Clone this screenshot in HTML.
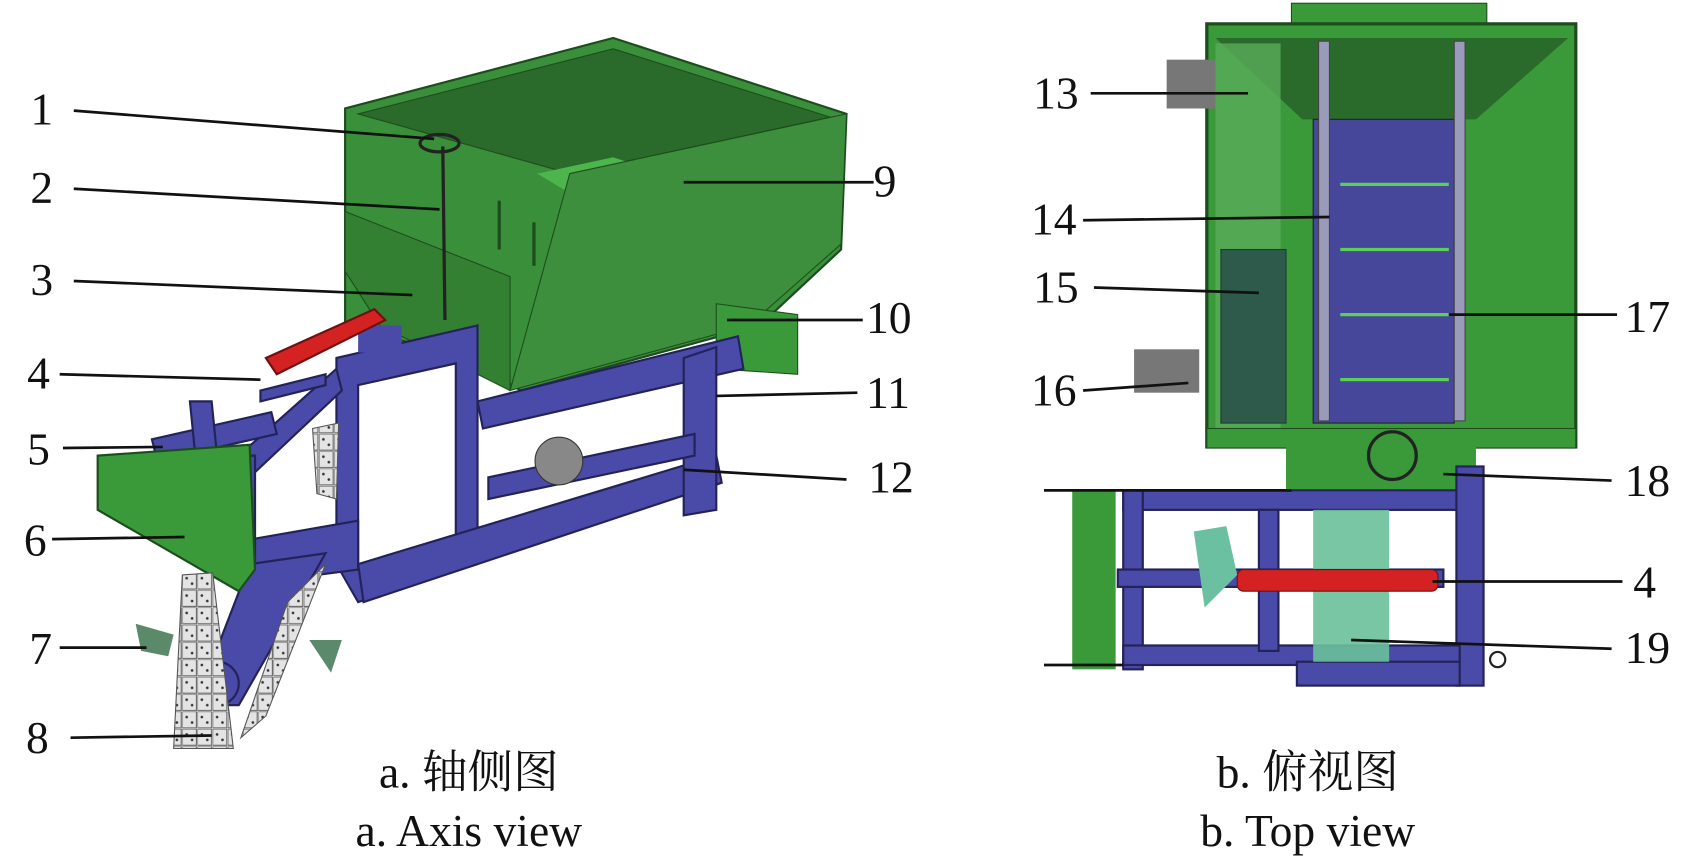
<!DOCTYPE html>
<html><head><meta charset="utf-8"><style>
html,body{margin:0;padding:0;background:#fff;width:1693px;height:857px;overflow:hidden}
svg{display:block}
text{font-family:"Liberation Serif","Noto Serif CJK SC",serif;fill:#111}
</style></head><body>
<svg width="1693" height="857" viewBox="0 0 1560 790" preserveAspectRatio="none">
<defs><pattern id="ch" width="14" height="16" patternUnits="userSpaceOnUse"><rect width="14" height="16" fill="#e4e4e4"/><rect x="0" y="0" width="13" height="15" fill="none" stroke="#666" stroke-width="1"/><circle cx="4" cy="5" r="1.2" fill="#333"/><circle cx="9" cy="10" r="1.2" fill="#333"/></pattern></defs>
<!-- LEFT: hopper -->
<polygon points="318,100 565,35 780,105 775,230 700,300 480,360 430,330 318,300" fill="#3a8f3a" stroke="#1d4d1d" stroke-width="2"/>
<polygon points="330,105 565,45 765,108 525,160" fill="#2a6a2a" stroke="#1d4d1d"/>
<polygon points="495,160 565,145 610,160 520,175" fill="#4cb54c"/>
<polygon points="525,160 780,105 775,225 690,300 470,360" fill="#3d8e3d" stroke="#1d4d1d"/>
<polygon points="318,195 470,255 470,360 350,300 318,250" fill="#338033" stroke="#1d4d1d"/>
<line x1="460" y1="185" x2="460" y2="230" stroke="#1d4d1d" stroke-width="3"/>
<line x1="492" y1="205" x2="492" y2="245" stroke="#1d4d1d" stroke-width="3"/>
<ellipse cx="405" cy="132" rx="18" ry="8" fill="none" stroke="#222" stroke-width="3"/>
<line x1="408" y1="135" x2="410" y2="295" stroke="#222" stroke-width="3"/>
<polygon points="660,280 735,290 735,345 660,340" fill="#3a9a3a" stroke="#1d4d1d"/>
<polygon points="345,360 430,370 425,460 350,440" fill="#4cc04c"/>
<!-- frame (blue) -->
<g fill="#4a4aa8" stroke="#23235a" stroke-width="2">
<polygon points="310,330 440,300 440,520 330,555 310,520"/>
<polygon points="330,355 420,335 420,500 330,525" fill="#fff"/>
<polygon points="220,420 310,340 315,360 230,440"/>
<polygon points="215,500 330,480 330,525 215,540"/>
<polygon points="330,520 660,420 665,445 335,555"/>
<polygon points="440,370 680,310 685,340 445,395"/>
<polygon points="630,330 660,320 660,470 630,475"/>
<polygon points="140,405 250,380 255,400 145,425"/>
<polygon points="215,420 235,420 235,540 215,540"/>
<polygon points="240,360 300,345 300,355 240,370"/>
<polygon points="175,370 195,370 200,420 180,420"/>
<polygon points="450,440 640,400 640,420 450,460"/>
<polygon points="230,520 300,510 220,650 180,650"/>
<circle cx="200" cy="630" r="20"/>
</g>
<rect x="330" y="300" width="40" height="25" fill="#4a4aa8"/>
<polygon points="245,330 345,285 355,295 255,345" fill="#d42222" stroke="#701010" stroke-width="2"/>
<circle cx="515" cy="425" r="22" fill="#888" stroke="#333"/>
<polygon points="90,420 230,410 235,525 220,545 90,470" fill="#3a9a3a" stroke="#1d4d1d" stroke-width="2"/>
<g fill="url(#ch)" stroke="#555">
<polygon points="168,530 196,528 215,690 160,690"/>
<polygon points="265,555 300,520 245,660 222,680"/>
<polygon points="288,395 312,390 310,460 292,455"/>
</g>
<polygon points="125,575 160,585 155,605 130,600" fill="#5a8a6a"/>
<polygon points="285,590 315,590 305,620" fill="#5a8a6a"/>
<!-- RIGHT: top view -->
<rect x="1190" y="3" width="180" height="20" fill="#3a9a3a" stroke="#1d4d1d"/>
<rect x="1112" y="22" width="340" height="390" fill="#3a9a3a" stroke="#1d4d1d" stroke-width="3"/>
<polygon points="1120,35 1445,35 1360,110 1200,110" fill="#2a6a2a"/>
<rect x="1120" y="40" width="60" height="360" fill="#5aab5a" opacity="0.8"/>
<rect x="1210" y="110" width="130" height="280" fill="#46469a" stroke="#222"/>
<rect x="1125" y="230" width="60" height="160" fill="#2d5a4a" stroke="#1d3d2d"/>
<rect x="1075" y="55" width="45" height="45" fill="#777"/>
<rect x="1045" y="322" width="60" height="40" fill="#777"/>
<rect x="1215" y="38" width="10" height="350" fill="#9a9aba" stroke="#444"/>
<rect x="1340" y="38" width="10" height="350" fill="#9a9aba" stroke="#444"/>
<g stroke="#5ad05a" stroke-width="3"><line x1="1235" y1="170" x2="1335" y2="170"/><line x1="1235" y1="230" x2="1335" y2="230"/><line x1="1235" y1="290" x2="1335" y2="290"/><line x1="1235" y1="350" x2="1335" y2="350"/></g>
<rect x="1112" y="395" width="340" height="18" fill="#3a9a3a" stroke="#1d4d1d"/>
<rect x="1185" y="412" width="175" height="40" fill="#3a9a3a"/>
<circle cx="1283" cy="420" r="22" fill="none" stroke="#222" stroke-width="3"/>
<rect x="988" y="452" width="40" height="165" fill="#3a9a3a"/>
<g fill="#4a4aa8" stroke="#23235a" stroke-width="2">
<rect x="1035" y="452" width="310" height="18"/>
<rect x="1035" y="452" width="18" height="165"/>
<rect x="1342" y="430" width="25" height="202"/>
<rect x="1035" y="595" width="310" height="18"/>
<rect x="1160" y="470" width="18" height="130"/>
<rect x="1195" y="610" width="150" height="22"/>
<rect x="1030" y="525" width="300" height="16"/>
</g>
<rect x="1210" y="470" width="70" height="140" fill="#6ac09a" opacity="0.9"/>
<rect x="1140" y="525" width="185" height="20" rx="6" fill="#d42222" stroke="#701010"/>
<polygon points="1100,490 1130,485 1140,530 1110,560" fill="#6ac0a0"/>
<circle cx="1380" cy="608" r="7" fill="#fff" stroke="#222" stroke-width="2"/>
<!-- leader lines -->
<g stroke="#111" stroke-width="2.5">
<line x1="68" y1="102" x2="400" y2="128"/><line x1="68" y1="174" x2="405" y2="193"/>
<line x1="68" y1="259" x2="380" y2="272"/><line x1="55" y1="345" x2="240" y2="350"/>
<line x1="58" y1="413" x2="150" y2="412"/><line x1="48" y1="497" x2="170" y2="495"/>
<line x1="55" y1="597" x2="135" y2="597"/><line x1="65" y1="680" x2="195" y2="678"/>
<line x1="630" y1="168" x2="805" y2="168"/><line x1="670" y1="295" x2="795" y2="295"/>
<line x1="660" y1="365" x2="790" y2="362"/><line x1="630" y1="433" x2="780" y2="442"/>
<line x1="1005" y1="86" x2="1150" y2="86"/><line x1="998" y1="203" x2="1225" y2="200"/>
<line x1="1008" y1="265" x2="1160" y2="270"/><line x1="998" y1="360" x2="1095" y2="353"/>
<line x1="1335" y1="290" x2="1490" y2="290"/><line x1="1330" y1="437" x2="1485" y2="443"/>
<line x1="1320" y1="536" x2="1495" y2="536"/><line x1="1245" y1="590" x2="1485" y2="598"/>
<line x1="962" y1="452" x2="1190" y2="452"/><line x1="962" y1="613" x2="1035" y2="613"/>
</g>
<!-- labels -->
<g font-size="42">
<text x="28" y="115">1</text><text x="28" y="187">2</text><text x="28" y="272">3</text>
<text x="25" y="358">4</text><text x="25" y="428">5</text><text x="22" y="512">6</text>
<text x="27" y="612">7</text><text x="24" y="694">8</text><text x="805" y="181">9</text>
<text x="798" y="307">10</text><text x="798" y="376">11</text><text x="800" y="454">12</text>
<text x="952" y="100">13</text><text x="950" y="216">14</text><text x="952" y="279">15</text>
<text x="950" y="374">16</text><text x="1497" y="306">17</text><text x="1497" y="457">18</text>
<text x="1505" y="551">4</text><text x="1497" y="611">19</text>
<text x="432" y="726" text-anchor="middle">a. 轴侧图</text>
<text x="432" y="780" text-anchor="middle">a. Axis view</text>
<text x="1205" y="726" text-anchor="middle">b. 俯视图</text>
<text x="1205" y="780" text-anchor="middle">b. Top view</text>
</g>
</svg>
</body></html>
